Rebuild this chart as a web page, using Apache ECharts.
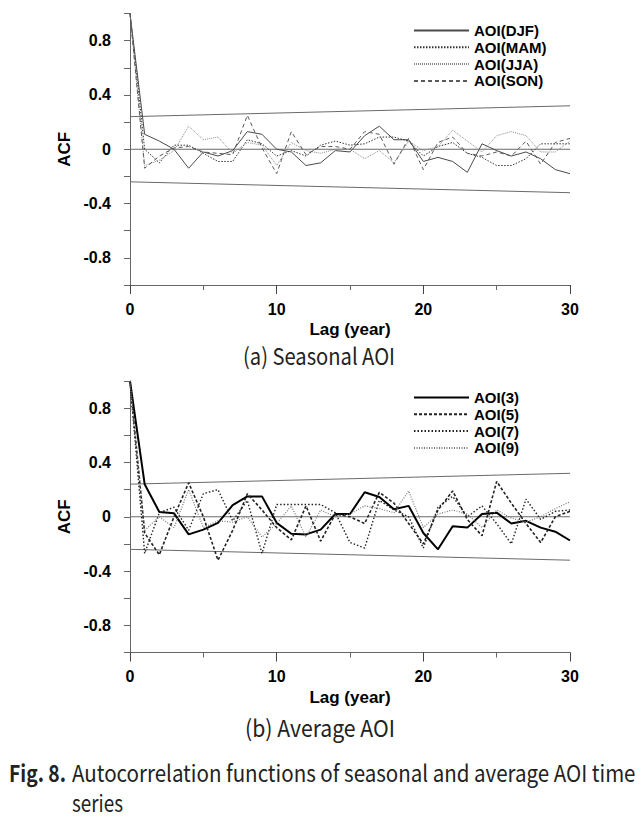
<!DOCTYPE html>
<html><head><meta charset="utf-8">
<script src="https://cdn.jsdelivr.net/npm/echarts@6/dist/echarts.min.js"></script>
<style>html,body{margin:0;padding:0;background:#fff}#c{width:641px;height:829px}</style>
</head><body><div id="c"></div>
<script>
// ---------- data ----------
const lags = [0,1,2,3,4,5,6,7,8,9,10,11,12,13,14,15,16,17,18,19,20,21,22,23,24,25,26,27,28,29,30];

// (a) Seasonal AOI
const acfDJF = [1.0,0.11,0.06,0.0,-0.14,-0.02,-0.05,-0.01,0.13,0.11,0.0,-0.02,-0.12,-0.1,-0.01,-0.02,0.10,0.17,0.07,0.07,-0.09,-0.06,-0.09,-0.17,0.04,-0.01,-0.05,-0.02,-0.07,-0.15,-0.18];
const acfMAM = [1.0,0.0,-0.1,0.03,0.03,-0.03,-0.09,-0.09,0.07,0.04,-0.05,-0.01,-0.05,0.03,0.06,0.03,0.04,0.09,0.09,0.06,-0.05,0.02,0.05,-0.03,-0.06,-0.12,-0.12,-0.07,0.04,0.04,0.04];
const acfJJA = [1.0,-0.12,-0.08,-0.01,0.17,0.07,0.09,-0.03,0.05,0.03,-0.12,0.05,-0.01,-0.03,0.0,0.0,-0.07,-0.01,-0.10,0.06,-0.01,0.02,0.14,0.06,-0.02,0.10,0.13,0.10,-0.02,-0.02,0.06];
const acfSON = [1.0,-0.14,-0.05,0.01,0.02,-0.02,-0.03,-0.04,0.25,0.01,-0.18,0.13,-0.04,0.02,0.02,0.0,0.13,0.11,-0.11,0.08,-0.15,0.05,0.09,-0.03,-0.05,-0.02,-0.05,0.06,-0.11,0.05,0.08];

// (b) Average AOI
const acf3 = [1.0,0.24,0.035,0.025,-0.13,-0.095,-0.045,0.085,0.15,0.15,-0.045,-0.125,-0.13,-0.095,0.02,0.02,0.18,0.145,0.055,0.08,-0.12,-0.24,-0.07,-0.08,0.02,0.03,-0.05,-0.03,-0.08,-0.11,-0.175];
const acf5 = [1.0,-0.12,-0.28,0.0,0.25,0.0,-0.32,-0.1,0.17,0.05,-0.08,-0.17,0.08,-0.18,0.02,0.0,-0.05,0.18,0.1,-0.05,-0.2,0.05,0.19,-0.02,-0.14,0.26,0.1,-0.05,-0.19,0.0,0.04];
const acf7 = [1.0,-0.27,0.03,0.07,-0.1,0.17,0.2,-0.03,0.12,-0.27,0.09,0.09,0.09,0.09,0.03,-0.19,-0.23,0.12,0.05,0.0,-0.23,0.07,0.15,0.0,0.08,-0.05,-0.2,0.13,-0.02,0.04,0.05];
const acf9 = [1.0,-0.1,0.0,-0.08,0.2,-0.08,-0.03,-0.04,0.0,-0.15,-0.05,0.08,-0.15,0.05,0.0,0.02,0.08,0.06,0.03,0.19,-0.08,0.02,0.05,0.02,-0.08,0.05,-0.01,-0.04,0.0,0.06,0.11];

// confidence bands and zero line
const bandLags = [0, 30];
const upperBand = [0.24, 0.32];
const lowerBand = [-0.24, -0.32];
const zeroLine = [0, 0];

const yTickLabels = ['0.8','0.4','0','-0.4','-0.8'];
const xName = 'Lag (year)';
const yName = 'ACF';
const legendA = ['AOI(DJF)','AOI(MAM)','AOI(JJA)','AOI(SON)'];
const legendB = ['AOI(3)','AOI(5)','AOI(7)','AOI(9)'];
const captionA = '(a) Seasonal AOI';
const captionB = '(b) Average AOI';
const figLabel = 'Fig. 8.';
const figText1 = 'Autocorrelation functions of seasonal and average AOI time';
const figText2 = 'series';

// ---------- helpers ----------
function pairs(xs, ys){ return xs.map((x,i)=>[x, ys[i]]); }
const tickFont = {fontFamily:'Liberation Sans, Arial', fontWeight:'bold', fontSize:16, color:'#000'};
const nameFont = {fontFamily:'Liberation Sans, Arial', fontWeight:'bold', fontSize:17, color:'#000'};
function xAx(gi){
  return {type:'value', gridIndex:gi, min:0, max:30, interval:10,
    name:xName, nameLocation:'middle', nameGap:36, nameTextStyle:nameFont,
    axisLine:{show:true, onZero:false, lineStyle:{color:'#666', width:1}},
    axisTick:{show:true, length:9, lineStyle:{color:'#444'}},
    minorTick:{show:true, splitNumber:2, length:5, lineStyle:{color:'#666'}},
    splitLine:{show:false}, minorSplitLine:{show:false},
    axisLabel:Object.assign({margin:16}, tickFont)};
}
function yAx(gi){
  return {type:'value', gridIndex:gi, min:-1, max:1, interval:0.2,
    name:yName, nameLocation:'middle', nameGap:52, nameTextStyle:nameFont,
    axisLine:{show:true, onZero:false, lineStyle:{color:'#666', width:1}},
    axisTick:{show:true, length:6, lineStyle:{color:'#666'}},
    splitLine:{show:false},
    axisLabel:Object.assign({margin:19, formatter:function(v){
      let s = (Math.round(v*10)/10).toFixed(1);
      if (s==='0.0' || s==='-0.0') s='0';
      return yTickLabels.indexOf(s)>=0 ? s : '';
    }}, tickFont)};
}
function ref(gi, ys){
  return {type:'line', xAxisIndex:gi, yAxisIndex:gi, data:pairs(bandLags, ys), symbol:'none', silent:true,
    lineStyle:{color:'#6a6a6a', width:1}, z:1};
}
function ser(gi, name, ys, color, width, type){
  return {type:'line', name:name, xAxisIndex:gi, yAxisIndex:gi, data:pairs(lags, ys), symbol:'none', silent:true,
    itemStyle:{color:color, opacity:0},
    lineStyle:{color:color, width:width, type:type}, z:3};
}

// caption scaling to match the reference widths
const mctx = document.createElement('canvas').getContext('2d');
function fit(text, font, target){ mctx.font = font; return target / mctx.measureText(text).width; }
const capFont = '23px "Noto Sans CJK KR", "Noto Sans", sans-serif';
const capFontB = 'bold 23px "Noto Sans CJK KR", "Noto Sans", sans-serif';

function capText(text, x, y, font, align, target){
  return {type:'text', x:x, y:y, scaleX:fit(text, font, target), silent:true,
    style:{text:text, font:font, fill:'#222', textAlign:align, textVerticalAlign:'middle'}};
}

const legendCommon = {orient:'vertical', left:408, itemWidth:55, itemHeight:10, itemGap:1.8, selectedMode:false,
  itemStyle:{opacity:0},
  textStyle:{fontFamily:'Liberation Sans, Arial', fontWeight:'bold', fontSize:15, color:'#000', lineHeight:14.5}};

const chart = echarts.init(document.getElementById('c'), null, {renderer:'svg'});
chart.setOption({
  animation:false,
  backgroundColor:'#fff',
  grid:[{left:130, top:13.5, width:440, height:271.5},
        {left:130, top:381, width:440, height:271.5}],
  xAxis:[xAx(0), xAx(1)],
  yAxis:[yAx(0), yAx(1)],
  legend:[
    Object.assign({data:legendA, top:18}, legendCommon),
    Object.assign({data:legendB, top:385}, legendCommon)
  ],
  series:[
    ref(0, upperBand), ref(0, lowerBand), ref(0, zeroLine),
    ser(0, 'AOI(DJF)', acfDJF, '#4a4a4a', 1, 'solid'),
    ser(0, 'AOI(MAM)', acfMAM, '#333', 1, [1.5,1.5]),
    ser(0, 'AOI(JJA)', acfJJA, '#8a8a8a', 1, [1,1]),
    ser(0, 'AOI(SON)', acfSON, '#5a5a5a', 1, [4,3]),
    ref(1, upperBand), ref(1, lowerBand), ref(1, zeroLine),
    ser(1, 'AOI(3)', acf3, '#000', 2, 'solid'),
    ser(1, 'AOI(5)', acf5, '#222', 1.6, [3,2]),
    ser(1, 'AOI(7)', acf7, '#222', 1.4, [1.5,2]),
    ser(1, 'AOI(9)', acf9, '#777', 1.2, [1,1.5])
  ],
  graphic:[
    capText(captionA, 319, 355, capFont, 'center', 152),
    capText(captionB, 320, 727, capFont, 'center', 150),
    capText(figLabel, 9, 772, capFontB, 'left', 57),
    capText(figText1, 72, 772, capFont, 'left', 564),
    capText(figText2, 72, 802, capFont, 'left', 51)
  ]
});
</script>
</body></html>
